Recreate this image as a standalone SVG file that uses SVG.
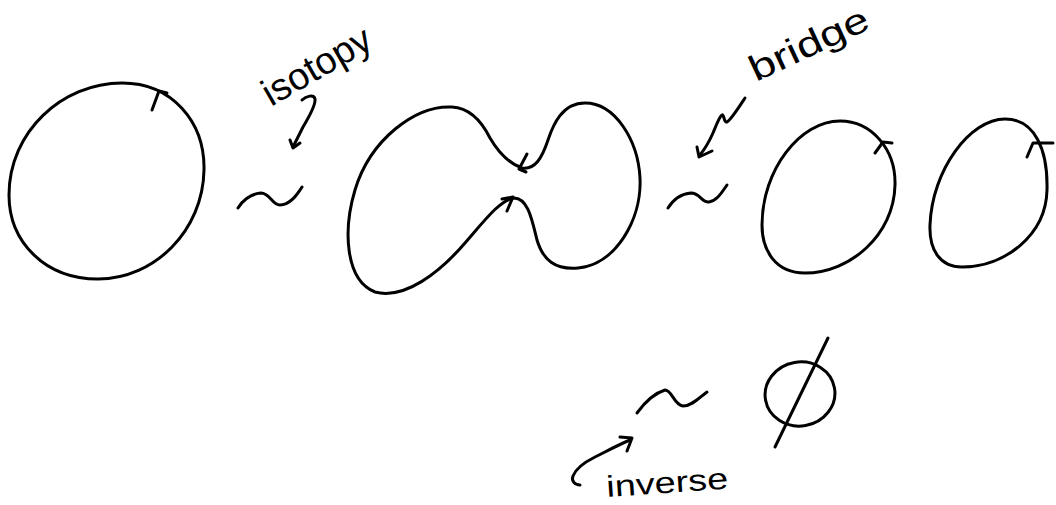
<svg xmlns="http://www.w3.org/2000/svg" width="1056" height="505" viewBox="0 0 1056 505">
<style>
.s{fill:none;stroke:#000;stroke-width:3;stroke-linecap:round;stroke-linejoin:round}
.t{font-family:"Liberation Sans","DejaVu Sans",sans-serif;fill:#000}
</style>
<rect width="1056" height="505" fill="#fff"/>
<g id="circle1">
<path class="s" d="M122,83 C172,83 205,122 204,170 C203,230 155,279 98,279 C45,279 9,242 9,195 C9,132 62,83 122,83 Z"/>
<path class="s" d="M152,110 L159,91 L167,93"/>
</g>
<g id="peanut">
<path class="s" d="M522,168 C508,163 497,150 490,138 C482,122 470,108 452,107 C415,105 370,140 355,190 C343,230 345,280 375,292 C405,300 440,272 465,243 C485,220 500,200 514,198 C528,198 532,220 537,240 C543,260 555,270 578,268 C615,265 642,220 640,178 C638,140 615,103 585,103 C562,103 553,125 548,140 C542,158 535,170 522,168 Z"/>
<path class="s" d="M527,154 L519,169 L526,172"/>
<path class="s" d="M502,199 L513,197 L507,211"/>
</g>
<g id="circle2">
<path class="s" d="M840,121 C872,121 896,150 895,185 C894,235 850,273 805,273 C775,273 762,250 762,225 C762,170 800,121 840,121 Z"/>
<path class="s" d="M875,153 L883,142 L892,143"/>
</g>
<g id="circle3">
<path class="s" d="M1005,119 C1035,119 1048,150 1047,190 C1046,235 1005,267 962,267 C940,267 929,250 930,225 C932,170 970,119 1005,119 Z"/>
<path class="s" d="M1027,157 L1033,143 L1053,143"/>
</g>
<g id="emptyset">
<ellipse class="s" cx="800" cy="394" rx="35" ry="32" transform="rotate(-10 800 394)"/>
<path class="s" d="M828,338 L775,447"/>
</g>
<g id="connectors">
<path class="s" d="M238,208 C243,200 250,194 261,193 C270,193 272,205 280,205 C290,205 297,195 302,187"/>
<path class="s" d="M668,208 C673,200 680,194 691,193 C700,193 702,203 709,202 C717,201 722,192 727,185"/>
<path class="s" d="M637,413 C645,402 655,393 665,390 C672,390 674,405 683,406 C692,406 700,397 707,392"/>
</g>
<g id="labels">
<text class="t" x="271" y="107" font-size="38" textLength="120" lengthAdjust="spacingAndGlyphs" transform="rotate(-30 271 107)">isotopy</text>
<path class="s" d="M302,100 C306,96 314,94 315,99 C316,106 308,118 303,127 C299,135 296,141 293,147"/>
<path class="s" d="M290,140 L293,148 L300,143"/>
<text class="t" x="756" y="82" font-size="36" textLength="128" lengthAdjust="spacingAndGlyphs" transform="rotate(-25 756 82)">bridge</text>
<path class="s" d="M745,98 C741,104 731,120 727,122 C724,123 724,114 722,115 C719,117 716,126 713,133 C709,142 704,150 700,155"/>
<path class="s" d="M697,147 L699,157 L712,151"/>
<text class="t" x="607" y="497" font-size="30" textLength="122" lengthAdjust="spacingAndGlyphs" transform="rotate(-4 607 497)">inverse</text>
<path class="s" d="M580,485 C575,485 571,481 573,476 C576,468 585,462 595,457 C607,451 618,445 630,440"/>
<path class="s" d="M620,437 L632,438 L627,451"/>
</g>
</svg>
